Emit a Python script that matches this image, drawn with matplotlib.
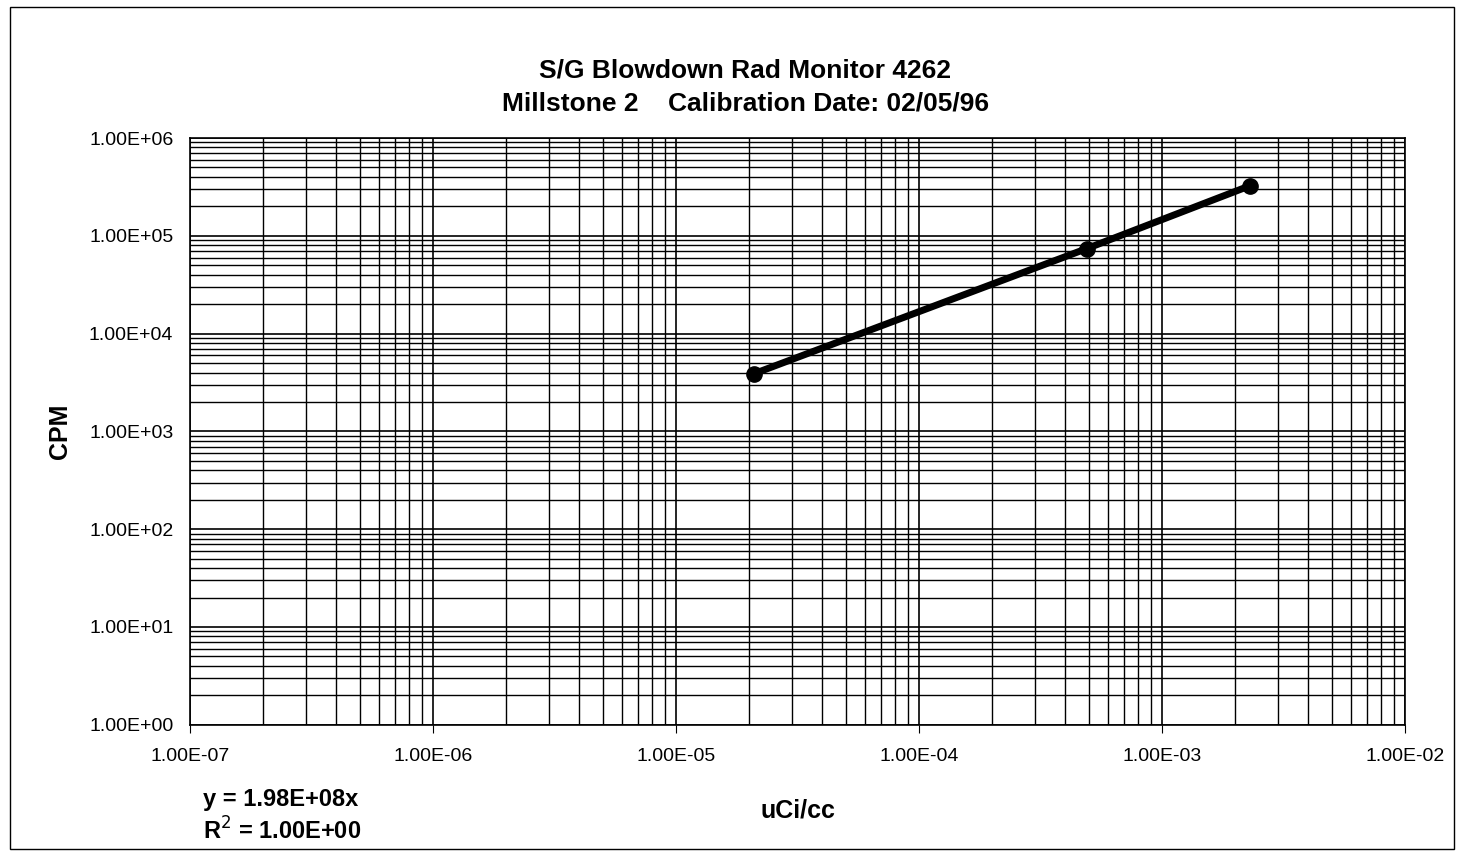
import numpy as np
import matplotlib
matplotlib.use("Agg")
import matplotlib.pyplot as plt
from matplotlib.ticker import LogLocator, FixedLocator, NullFormatter
from matplotlib.patches import Rectangle

# calibration points
uci_cc = [2.1e-5, 4.9e-4, 2.3e-3]
cpm = [3.9e3, 7.4e4, 3.25e5]

x_ticks = [1e-7, 1e-6, 1e-5, 1e-4, 1e-3, 1e-2]
x_labels = ["1.00E-07", "1.00E-06", "1.00E-05", "1.00E-04", "1.00E-03", "1.00E-02"]
y_ticks = [1e0, 1e1, 1e2, 1e3, 1e4, 1e5, 1e6]
y_labels = ["1.00E+00", "1.00E+01", "1.00E+02", "1.00E+03", "1.00E+04", "1.00E+05", "1.00E+06"]

plt.rcParams['font.family'] = ['Liberation Sans', 'DejaVu Sans']

fig = plt.figure(figsize=(14.61, 8.68), dpi=100)
ax = fig.add_axes([0.130, 0.165, 0.8317, 0.676])

ax.set_xscale('log')
ax.set_yscale('log')
ax.set_xlim(1e-7, 1e-2)
ax.set_ylim(1e0, 1e6)

ax.xaxis.set_major_locator(FixedLocator(x_ticks))
ax.set_xticklabels(x_labels, fontsize=14)
ax.yaxis.set_major_locator(FixedLocator(y_ticks))
ax.set_yticklabels(y_labels, fontsize=14)
ax.xaxis.set_minor_locator(LogLocator(base=10, subs=np.arange(2, 10)))
ax.yaxis.set_minor_locator(LogLocator(base=10, subs=np.arange(2, 10)))
ax.xaxis.set_minor_formatter(NullFormatter())
ax.yaxis.set_minor_formatter(NullFormatter())

ax.grid(which='major', color='black', linewidth=1.2)
ax.grid(which='minor', color='black', linewidth=1.0)
ax.tick_params(axis='x', which='major', direction='out', length=6, color='black', pad=11)
ax.tick_params(axis='y', which='major', direction='out', length=0, pad=12)
ax.tick_params(which='minor', length=0)
for s in ax.spines.values():
    s.set_color('black')
    s.set_linewidth(1.2)

ax.plot(uci_cc, cpm, color='black', linewidth=5, marker='o', markersize=11, zorder=5)

ax.set_xlabel("uCi/cc", fontsize=18, fontweight='bold', labelpad=24)
ax.set_ylabel("CPM", fontsize=18, fontweight='bold', labelpad=12)

fig.text(0.51, 0.919, "S/G Blowdown Rad Monitor 4262", ha='center', va='center',
         fontsize=19, fontweight='bold')
fig.text(0.51, 0.881, "Millstone 2    Calibration Date: 02/05/96", ha='center', va='center',
         fontsize=19, fontweight='bold')

fig.text(0.139, 0.079, "y = 1.98E+08x", ha='left', va='center', fontsize=17, fontweight='bold')
fig.text(0.139, 0.043, "R$^2$ = 1.00E+00", ha='left', va='center', fontsize=17, fontweight='bold')

# outer chart border
fig.patches.append(Rectangle((0.007, 0.022), 0.988, 0.97, transform=fig.transFigure,
                             fill=False, edgecolor='black', linewidth=1.0))

fig.savefig("out.png", dpi=100)
